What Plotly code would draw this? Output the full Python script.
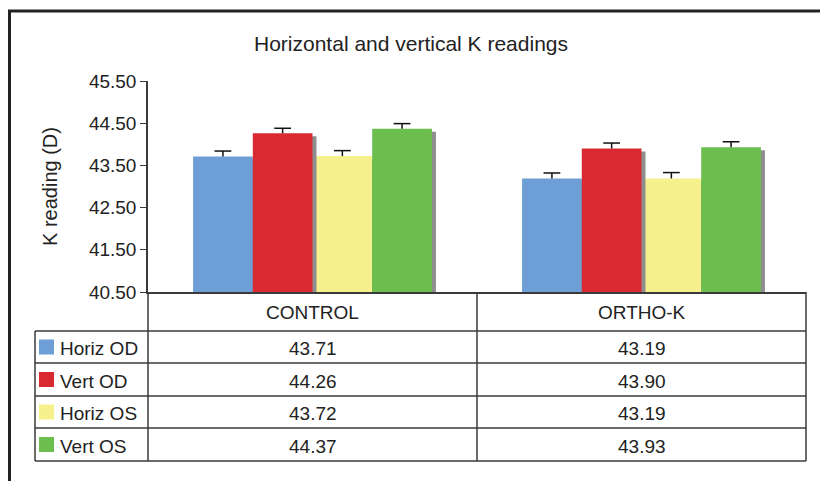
import plotly.graph_objects as go

# ---------------- data ----------------
categories = ["CONTROL", "ORTHO-K"]
series_names = ["Horiz OD", "Vert OD", "Horiz OS", "Vert OS"]
horiz_od = [43.71, 43.19]
vert_od = [44.26, 43.90]
horiz_os = [43.72, 43.19]
vert_os = [44.37, 43.93]
horiz_od_err = [0.13, 0.13]
vert_od_err = [0.12, 0.13]
horiz_os_err = [0.13, 0.14]
vert_os_err = [0.12, 0.13]
y_ticks = [40.50, 41.50, 42.50, 43.50, 44.50, 45.50]

series_values = [horiz_od, vert_od, horiz_os, vert_os]
series_errors = [horiz_od_err, vert_od_err, horiz_os_err, vert_os_err]
colors = ["#6d9fd6", "#d92a31", "#f6f08d", "#6cbe4f"]

FONT = "Liberation Sans, Arial, Helvetica, sans-serif"
TXT = "#222222"
LINE = "#3a3a3a"

# ---------------- layout geometry ----------------
W, H = 820, 481
L, R, T, B = 148, 14, 81, 189
plot_w = W - L - R
plot_h = H - T - B


def px(xp):
    return (xp - L) / plot_w


def py(yp):
    return (H - B - yp) / plot_h


cat_pos = list(range(len(categories)))
bar_w = 0.1815
shadow_dx = 4 / (plot_w / 2)
shadow_dy = 3 * (y_ticks[-1] - y_ticks[0]) / plot_h

fig = go.Figure()
draw_order = [0, 2, 1, 3]
for i in draw_order:
    off = -2 * bar_w + i * bar_w
    fig.add_trace(go.Bar(
        x=cat_pos, y=[v - shadow_dy for v in series_values[i]],
        offset=off + shadow_dx, width=bar_w,
        marker=dict(color="#8e8e8e", line=dict(width=0)),
        showlegend=False, hoverinfo="skip",
    ))
    fig.add_trace(go.Bar(
        x=cat_pos, y=series_values[i], name=series_names[i],
        offset=off, width=bar_w,
        marker=dict(color=colors[i], line=dict(width=0)),
        showlegend=False,
    ))

# error bars (upper only, T-shaped)
for i in range(len(series_names)):
    off = -2 * bar_w + i * bar_w + bar_w / 2
    fig.add_trace(go.Scatter(
        x=[p + off for p in cat_pos],
        y=[v + e for v, e in zip(series_values[i], series_errors[i])],
        mode="markers",
        marker=dict(symbol="line-ew-open", size=12, color="#111111",
                    line=dict(color="#111111", width=1.5)),
        error_y=dict(type="data", symmetric=False, array=[0] * len(cat_pos),
                     arrayminus=series_errors[i], color="#111111", thickness=1.5, width=0),
        showlegend=False, hoverinfo="skip",
    ))

shapes = []
lw = dict(color=LINE, width=1.5)
row_lines = [331, 363, 396, 428, 461]
# vertical table lines
for xv in [0, 0.5, 1]:
    shapes.append(dict(type="line", xref="paper", yref="paper", x0=xv, x1=xv,
                       y0=0, y1=py(row_lines[-1]), line=lw))
shapes.append(dict(type="line", xref="paper", yref="paper", x0=px(35), x1=px(35),
                   y0=py(row_lines[0]), y1=py(row_lines[-1]), line=lw))
for yl in row_lines:
    shapes.append(dict(type="line", xref="paper", yref="paper", x0=px(35), x1=1,
                       y0=py(yl), y1=py(yl), line=lw))
# outer frame
shapes.append(dict(type="line", xref="paper", yref="paper", x0=px(8), x1=px(830),
                   y0=py(11), y1=py(11), line=dict(color="#222222", width=3)))
shapes.append(dict(type="line", xref="paper", yref="paper", x0=px(9.5), x1=px(9.5),
                   y0=py(10), y1=py(490), line=dict(color="#222222", width=3)))

annotations = []
# header labels
for j, c in enumerate(categories):
    annotations.append(dict(x=cat_pos[j], xref="x", y=py(312), yref="paper", text=c,
                            showarrow=False, xanchor="center", yanchor="middle",
                            font=dict(size=19, color=TXT, family=FONT)))
# rows
for r, name in enumerate(series_names):
    yc = (row_lines[r] + row_lines[r + 1]) / 2 + 1.5
    shapes.append(dict(type="rect", xref="paper", yref="paper",
                       x0=px(39), x1=px(54), y0=py(yc - 9), y1=py(yc + 6),
                       fillcolor=colors[r], line=dict(width=0)))
    annotations.append(dict(x=px(58), xref="paper", y=py(yc), yref="paper", text=name,
                            showarrow=False, xanchor="left", yanchor="middle",
                            font=dict(size=19, color=TXT, family=FONT)))
    for j in range(len(categories)):
        annotations.append(dict(x=cat_pos[j], xref="x", y=py(yc), yref="paper",
                                text=f"{series_values[r][j]:.2f}",
                                showarrow=False, xanchor="center", yanchor="middle",
                                font=dict(size=19, color=TXT, family=FONT)))

fig.update_layout(
    width=W, height=H,
    margin=dict(l=L, r=R, t=T, b=B, autoexpand=False),
    paper_bgcolor="white", plot_bgcolor="white",
    barmode="overlay",
    font=dict(family=FONT, color=TXT),
    title=dict(text="Horizontal and vertical K readings", x=411 / W, xref="container",
               xanchor="center", y=1 - 44 / H, yref="container", yanchor="middle",
               font=dict(size=21, color=TXT, family=FONT)),
    xaxis=dict(range=[-0.5, len(categories) - 0.5], showticklabels=False, ticks="",
               showgrid=False, zeroline=False, showline=True, linecolor=LINE, linewidth=1.5),
    yaxis=dict(range=[y_ticks[0], y_ticks[-1]], tickvals=y_ticks,
               ticktext=[f"{v:.2f}" for v in y_ticks],
               ticks="outside", ticklen=6, tickwidth=1.2, tickcolor=LINE,
               showline=True, linecolor=LINE, linewidth=1.5,
               showgrid=False, zeroline=False,
               tickfont=dict(size=19, color=TXT, family=FONT),
               title=dict(text="K reading (D)", standoff=26,
                          font=dict(size=20, color=TXT, family=FONT))),
    shapes=shapes,
    annotations=annotations,
)

fig.write_html("out.html", config={"displayModeBar": False},
               post_script="document.body.style.margin='0';document.body.style.overflow='hidden';")
